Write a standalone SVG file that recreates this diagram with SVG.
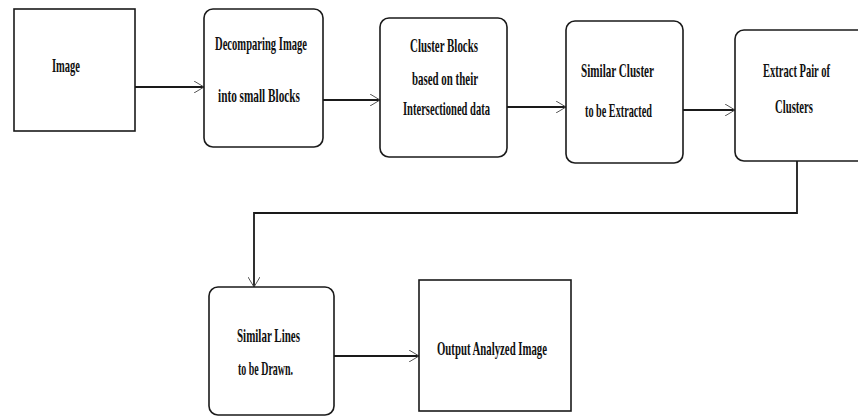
<svg xmlns="http://www.w3.org/2000/svg" width="858" height="416" viewBox="0 0 858 416">
<style>
.box{fill:#fff;stroke:#1a1a1a;stroke-width:1.6}
.t{font-family:'Liberation Serif','DejaVu Serif',serif;font-weight:bold;font-size:19px;fill:#111}
.c{fill:none;stroke:#1a1a1a;stroke-width:1.8}
</style>
<defs>
<marker id="ah" viewBox="0 0 10 12" refX="10" refY="6" markerWidth="10" markerHeight="12" markerUnits="userSpaceOnUse" orient="auto">
<path d="M0,0 L10,6 L0,12" fill="none" stroke="#555" stroke-width="1"/>
</marker>
</defs>
<rect width="858" height="416" fill="#fff"/>
<g id="connectors">
<line class="c" x1="135" y1="87" x2="204" y2="87" marker-end="url(#ah)"/>
<line class="c" x1="323" y1="100" x2="380" y2="100" marker-end="url(#ah)"/>
<line class="c" x1="507" y1="107" x2="566" y2="107" marker-end="url(#ah)"/>
<line class="c" x1="683" y1="110" x2="735" y2="110" marker-end="url(#ah)"/>
<polyline class="c" points="797,161 797,213 254,213 254,287" marker-end="url(#ah)"/>
<line class="c" x1="334" y1="356" x2="419" y2="356" marker-end="url(#ah)"/>
</g>
<g id="n1">
<rect class="box" x="14" y="9" width="121" height="122"/>
<text class="t" x="52" y="72" textLength="28" lengthAdjust="spacingAndGlyphs">Image</text>
</g>
<g id="n2">
<rect class="box" x="204" y="9" width="119" height="138" rx="9"/>
<text class="t" x="215" y="50" textLength="92" lengthAdjust="spacingAndGlyphs">Decomparing Image</text>
<text class="t" x="218" y="102" textLength="82" lengthAdjust="spacingAndGlyphs">into small Blocks</text>
</g>
<g id="n3">
<rect class="box" x="380" y="18" width="127" height="139" rx="9"/>
<text class="t" x="410" y="52" textLength="68" lengthAdjust="spacingAndGlyphs">Cluster Blocks</text>
<text class="t" x="412" y="85" textLength="66" lengthAdjust="spacingAndGlyphs">based on their</text>
<text class="t" x="403" y="115" textLength="87" lengthAdjust="spacingAndGlyphs">Intersectioned data</text>
</g>
<g id="n4">
<rect class="box" x="566" y="21" width="117" height="142" rx="9"/>
<text class="t" x="581" y="77" textLength="73" lengthAdjust="spacingAndGlyphs">Similar Cluster</text>
<text class="t" x="585" y="117" textLength="67" lengthAdjust="spacingAndGlyphs">to be Extracted</text>
</g>
<g id="n5">
<rect class="box" x="735" y="30" width="135" height="131" rx="9"/>
<text class="t" x="763" y="77" textLength="67" lengthAdjust="spacingAndGlyphs">Extract Pair of</text>
<text class="t" x="775" y="113" textLength="38" lengthAdjust="spacingAndGlyphs">Clusters</text>
</g>
<g id="n6">
<rect class="box" x="209" y="287" width="125" height="128" rx="9"/>
<text class="t" x="237" y="342" textLength="63" lengthAdjust="spacingAndGlyphs">Similar Lines</text>
<text class="t" x="238" y="375" textLength="55" lengthAdjust="spacingAndGlyphs">to be Drawn.</text>
</g>
<g id="n7">
<rect class="box" x="419" y="280" width="152" height="131"/>
<text class="t" x="437" y="355" textLength="110" lengthAdjust="spacingAndGlyphs">Output Analyzed Image</text>
</g>
</svg>
